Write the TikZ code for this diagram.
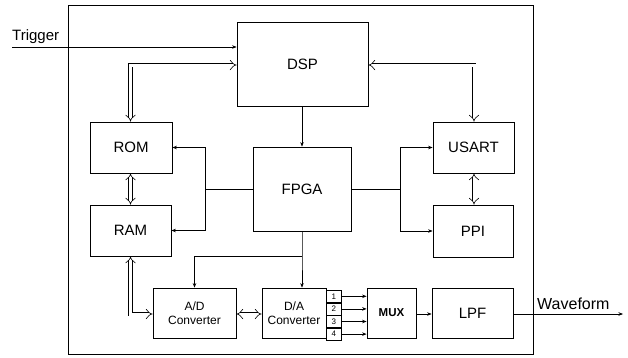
\documentclass[tikz,border=0pt]{standalone}
\usepackage{fontspec}
\setmainfont{Liberation Sans}
\usetikzlibrary{arrows.meta}
\begin{document}
\begin{tikzpicture}[x=1pt,y=-1pt,
  blk/.style={draw,line width=0.8pt,inner sep=0pt,font=\fontsize{15}{17}\selectfont},
  sblk/.style={draw,line width=0.8pt,inner sep=0pt,font=\fontsize{12}{14}\selectfont,align=center},
  nbox/.style={draw,line width=0.6pt,minimum width=15pt,minimum height=12pt,inner sep=0pt,font=\fontsize{8}{9}\selectfont},
  ctl/.style={line width=0.6pt,-{Stealth[length=4.5pt,width=3.5pt]}},
  wire/.style={line width=0.6pt},
  bus/.style={double,double distance=3pt,line width=0.6pt,{Implies[]}-{Implies[]}}
]
\useasboundingbox (0,0) rectangle (628,357);
% outer frame
\node[draw,line width=0.9pt,minimum width=465pt,minimum height=349pt,inner sep=0pt] (frame) at (300.5,179.5) {};
% blocks
\node[blk,minimum width=131pt,minimum height=84pt] (dsp) at (302.5,64) {DSP};
\node[blk,minimum width=82pt,minimum height=51pt] (rom) at (131,147.5) {ROM};
\node[blk,minimum width=98pt,minimum height=84pt] (fpga) at (302,189) {FPGA};
\node[blk,minimum width=81pt,minimum height=51pt] (usart) at (473.5,147.5) {USART};
\node[blk,minimum width=81pt,minimum height=51pt] (ram) at (130.5,230.5) {RAM};
\node[blk,minimum width=80pt,minimum height=52pt] (ppi) at (473,231) {PPI};
\node[sblk,minimum width=83pt,minimum height=50pt] (ad) at (194.5,313) {A/D\\Converter};
\node[sblk,minimum width=64pt,minimum height=50pt] (da) at (294,313) {D/A\\Converter};
\node[nbox,anchor=north west] (n1) at (326,290) {1};
\node[nbox,anchor=north] (n2) at (n1.south) {2};
\node[nbox,anchor=north] (n3) at (n2.south) {3};
\node[nbox,anchor=north] (n4) at (n3.south) {4};
\node[sblk,font=\fontsize{11.5}{13}\selectfont\bfseries,minimum width=49pt,minimum height=50pt] (mux) at (391.5,313) {MUX};
\node[blk,minimum width=81pt,minimum height=50pt] (lpf) at (472.5,313) {LPF};
% external texts
\node[font=\fontsize{15}{17}\selectfont,anchor=base west,inner sep=0pt] (trig) at (12,40) {Trigger};
\node[font=\fontsize{16}{18}\selectfont,anchor=base west,inner sep=0pt] (wave) at (537,309) {Waveform};
\coordinate (tin) at (12,47);
\coordinate (wout) at (623,314);
% trigger
\draw[ctl] (tin) -- (tin -| dsp.west);
% waveform
\draw[ctl] (lpf.east |- wout) -- (wout);
% DSP -> FPGA
\draw[ctl] (dsp.south -| 302,0) -- (fpga.north -| 302,0);
% buses
\coordinate (bl) at (130.5,65);
\coordinate (br) at (474,65);
\draw[bus] (dsp.west |- bl) -- (bl) -- (bl |- rom.north);
\draw[bus] (dsp.east |- br) -- (br) -- (br |- usart.north);
\draw[bus] (rom.south -| bl) -- (ram.north -| bl);
\draw[bus] (usart.south -| br) -- (ppi.north -| br);
\coordinate (rb) at (130.5,314);
\draw[bus] (ram.south -| rb) -- (rb) -- (rb -| ad.west);
\draw[bus] (ad.east |- 0,314) -- (da.west |- 0,314);
% FPGA control left
\coordinate (lj) at (205,189);
\draw[wire] (fpga.west |- lj) -- (lj);
\draw[ctl] (lj) -- (205,147.5) -- (rom.east);
\draw[ctl] (lj) -- (205,230.5) -- (ram.east);
% FPGA control right
\coordinate (rj) at (400,189);
\draw[wire] (fpga.east |- rj) -- (rj);
\draw[ctl] (rj) -- (400,147.5) -- (usart.west);
\draw[ctl] (rj) -- (400,231) -- (ppi.west);
% FPGA down to converters
\coordinate (dj) at (302,256);
\draw[ctl] (fpga.south -| dj) -- (dj) -- (da.north -| dj);
\draw[ctl] (dj) -- (194.5,256) -- (ad.north);
% channels to MUX
\draw[ctl] (n1.east) -- (n1.east -| mux.west);
\draw[ctl] (n2.east) -- (n2.east -| mux.west);
\draw[ctl] (n3.east) -- (n3.east -| mux.west);
\draw[ctl] (n4.east) -- (n4.east -| mux.west);
% MUX -> LPF
\draw[ctl] (mux.east |- 0,314) -- (lpf.west |- 0,314);
\end{tikzpicture}
\end{document}
